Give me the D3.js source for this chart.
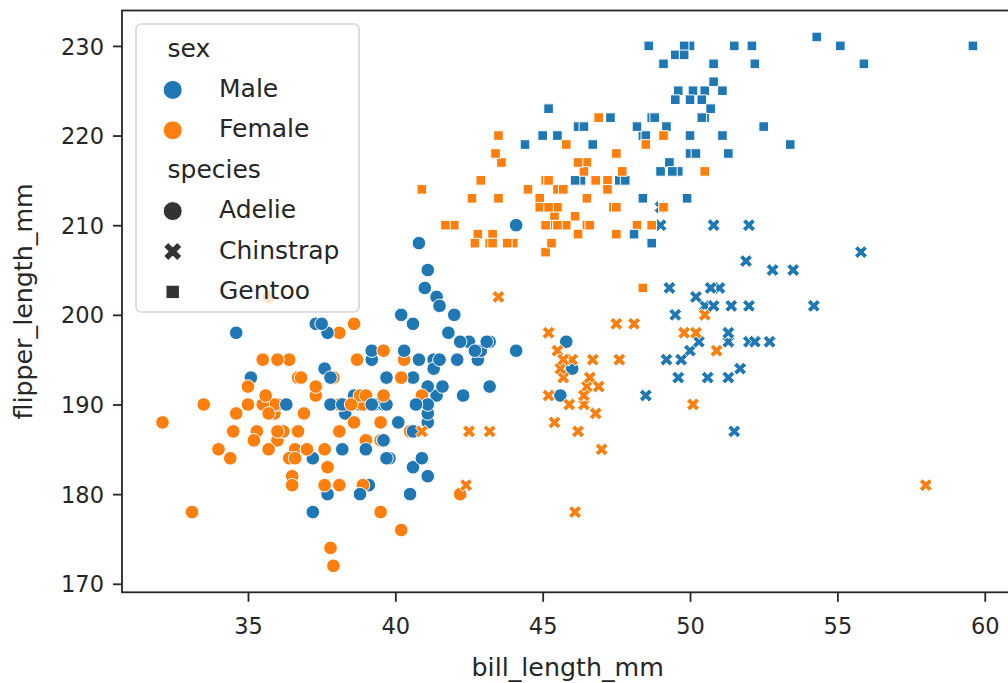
<!DOCTYPE html>
<html><head><meta charset="utf-8">
<script src="https://cdn.jsdelivr.net/npm/d3@7"></script>
<style>html,body{margin:0;padding:0;background:#fff;overflow:hidden}</style>
</head><body><svg id="c" width="1008" height="683"></svg>
<script>
// ---- data (penguins: bill_length_mm, flipper_length_mm, sex) ----
const species = ["Adelie", "Chinstrap", "Gentoo"];
const sexes = ["Male", "Female"];
const sexColors = ["#1f77b4", "#ff7f0e"];
const xTicks = [35, 40, 45, 50, 55, 60];
const yTicks = [170, 180, 190, 200, 210, 220, 230];

const adelieBill = [39.1,39.5,40.3,36.7,39.3,38.9,39.2,41.1,38.6,34.6,
36.6,38.7,42.5,34.4,46.0,37.8,37.7,35.9,38.2,38.8,
35.3,40.6,40.5,37.9,40.5,39.5,37.2,39.5,40.9,36.4,
39.2,38.8,42.2,37.6,39.8,36.5,40.8,36.0,44.1,37.0,
39.6,41.1,36.0,42.3,39.6,40.1,35.0,42.0,34.5,41.4,
39.0,40.6,36.5,37.6,35.7,41.3,37.6,41.1,36.4,41.6,
35.5,41.1,35.9,41.8,33.5,39.7,39.6,45.8,35.5,42.8,
40.9,37.2,36.2,42.1,34.6,42.9,36.7,35.1,37.3,41.3,
36.3,36.9,38.3,38.9,35.7,41.1,34.0,39.6,36.2,40.8,
38.1,40.3,33.1,43.2,35.0,41.0,37.7,37.8,37.9,39.7,
38.6,38.2,38.1,43.2,38.1,45.6,39.7,42.2,39.6,42.7,
38.6,37.3,35.7,41.1,36.2,37.7,40.2,41.4,35.2,40.6,
38.8,41.5,39.0,44.1,38.5,43.1,36.8,37.5,38.1,41.1,
35.6,40.2,37.0,39.7,40.2,40.6,32.1,40.7,37.3,39.0,
39.2,36.6,36.0,37.8,36.0,41.5];
const adelieFlipper = [181,186,195,193,190,181,195,182,191,198,
185,195,197,184,194,174,180,189,185,180,
187,183,187,172,180,178,178,188,184,195,
196,190,180,181,184,182,195,186,196,185,
190,182,190,191,186,188,190,200,187,191,
186,193,181,194,185,195,185,192,184,192,
195,188,190,198,190,190,196,197,190,195,
191,184,187,195,189,196,187,193,191,194,
190,189,189,190,202,205,185,186,187,208,
190,196,178,192,192,203,183,190,193,184,
199,190,181,197,198,191,193,197,191,196,
188,199,189,189,187,198,176,202,186,199,
191,195,191,210,190,197,193,199,187,190,
191,200,185,193,193,187,188,190,192,185,
190,184,195,193,187,201];
const adelieSex = ("MFFFMFMFMM"+"FFMFMFMFMM"+"FMFFMFMFMF"+"MMFFMFMFMF"+"MMFMFMFMFM"+
"FMFMFMFMFM"+"FMFMFMFMFM"+"FMFMFMFMFM"+"MFMFFMFMFM"+"FMFMFMFMFM"+
"FMFMFMFMFM"+"FMFMFMFMFM"+"FMFMFMFMFM"+"FMFMFMFMFM"+"MFFMFM").split("");

const chinstrapBill = [46.5,50.0,51.3,45.4,52.7,45.2,46.1,51.3,46.0,51.3,
46.6,51.7,47.0,52.0,45.9,50.5,50.3,58.0,46.4,49.2,
42.4,48.5,43.2,50.6,46.7,52.0,50.5,49.5,46.4,52.8,
40.9,54.2,42.5,51.0,49.7,47.5,47.6,52.0,46.9,53.5,
49.0,46.2,50.9,45.5,50.9,50.8,50.1,49.0,51.5,49.8,
48.1,51.4,45.7,50.7,42.5,52.2,45.2,49.3,50.2,45.6,
51.9,46.8,45.7,55.8,43.5,49.6,50.8,50.2];
const chinstrapFlipper = [192,196,193,188,197,198,178,197,195,198,
193,194,185,201,190,201,197,181,190,195,
181,191,187,193,195,197,200,200,191,205,
187,201,187,203,195,199,195,210,192,205,
210,187,196,196,196,201,190,212,187,198,
199,201,193,203,187,197,191,203,202,194,
206,189,195,207,202,193,210,198];
const chinstrapSex = ("FMMFMFFMFM"+"FMFMFMMFFM"+"FMFMFMFMFM"+"FMFMMFFMFM"+"MFMFFMFMMF"+
"FMFMFMFMMF"+"MFFMFMMF").split("");

const gentooBill = [46.1,50.0,48.7,50.0,47.6,46.5,45.4,46.7,43.3,46.8,
40.9,49.0,45.5,48.4,45.8,49.3,42.0,49.2,46.2,48.7,
50.2,45.1,46.5,46.3,42.9,46.1,47.8,48.2,50.0,47.3,
42.8,45.1,59.6,49.1,48.4,42.6,44.4,44.0,48.7,42.7,
49.6,45.3,49.6,50.5,43.6,45.5,50.5,44.9,45.2,46.6,
48.5,45.1,50.1,46.5,45.0,43.8,45.5,43.2,50.4,45.3,
46.2,45.7,54.3,45.8,49.8,49.5,43.5,50.7,47.7,46.4,
48.2,46.5,46.4,48.6,47.5,51.1,45.2,45.2,49.1,52.5,
47.4,50.0,44.9,50.8,43.4,51.3,47.5,52.1,47.5,52.2,
45.5,49.5,44.5,50.8,49.4,46.9,48.4,51.1,48.5,55.9,
47.2,49.1,46.8,41.7,53.4,43.3,48.1,50.5,49.8,43.5,
51.5,46.2,55.1,48.8,47.2,46.8,50.4,45.2,49.9];
const gentooFlipper = [211,230,210,218,215,210,211,219,209,215,
214,216,214,213,210,217,210,221,209,222,
218,215,213,215,215,215,215,210,220,222,
209,207,230,220,220,213,219,208,208,208,
225,210,216,222,217,210,225,213,215,210,
220,210,225,217,220,208,220,208,224,208,
221,214,231,219,230,229,220,223,216,221,
221,217,216,230,209,220,215,223,212,221,
212,224,212,228,218,218,212,230,218,228,
212,224,214,226,216,222,203,225,219,228,
215,228,215,210,219,208,209,216,229,213,
230,217,230,222,214,215,222,212,213];
const gentooSex = ("FMFMMFFMFM"+"FMFMFMFMFM"+"MFFMFMMFMM"+"FFMFMFMFMF"+"MFMMFFMFMF"+
"MFMFMFMFMF"+"MFMFMMFMFM"+"MFFMFMFMFM"+"FMFMFMFMFM"+"FMFMMFFMFM"+
"FMMFMFMFMF"+"MFMMFFMFM").split("");

// ---- build rows ----
const rows = [];
[[adelieBill, adelieFlipper, adelieSex, 0],
 [chinstrapBill, chinstrapFlipper, chinstrapSex, 1],
 [gentooBill, gentooFlipper, gentooSex, 2]].forEach(([b, f, s, sp]) => {
  b.forEach((v, i) => rows.push({bill: v, flipper: f[i], sex: s[i] === "M" ? 0 : 1, species: sp}));
});

// ---- layout ----
const svg = d3.select("#c");
const FONT = "DejaVu Sans, sans-serif";
const TXT = "#262626";
const L = 122, T = 10.5, B = 592.3;
const pxPerX = 29.47;

const xExt = d3.extent(rows, d => d.bill), yExt = d3.extent(rows, d => d.flipper);
const xPad = (xExt[1] - xExt[0]) * 0.05, yPad = (yExt[1] - yExt[0]) * 0.05;
const xDom = [xExt[0] - xPad, xExt[1] + xPad];
const yDom = [yExt[0] - yPad, yExt[1] + yPad];
const x = d3.scaleLinear().domain(xDom).range([L, L + (xDom[1] - xDom[0]) * pxPerX]);
const y = d3.scaleLinear().domain(yDom).range([B, T]);
const R = x.range()[1];

// marker paths (matplotlib/seaborn style markers: "o", "X", (4,0,45))
function markerPath(sp, S) {
  if (sp === 0) {
    const r = S / 2;
    return `M${r},0A${r},${r} 0 1,1 ${-r},0A${r},${r} 0 1,1 ${r},0Z`;
  }
  if (sp === 2) {
    const h = S / (2 * Math.SQRT2);
    return `M${-h},${-h}L${h},${-h}L${h},${h}L${-h},${h}Z`;
  }
  const pts = [[-1,-3],[-1,-1],[-3,-1],[-3,1],[-1,1],[-1,3],[1,3],[1,1],[3,1],[3,-1],[1,-1],[1,-3]];
  const c = Math.SQRT1_2;
  return "M" + pts.map(([a, b]) => {
    const px = a / 6 * S, py = b / 6 * S;
    return [(px * c - py * c).toFixed(2), (px * c + py * c).toFixed(2)].join(",");
  }).join("L") + "Z";
}

// clip
svg.append("clipPath").attr("id", "clip").append("rect")
  .attr("x", L).attr("y", T).attr("width", R - L).attr("height", B - T);

// points
const S = 13.6;
svg.append("g").attr("clip-path", "url(#clip)")
  .selectAll("path").data(rows).join("path")
  .attr("d", d => markerPath(d.species, S))
  .attr("transform", d => `translate(${x(d.bill)},${y(d.flipper)})`)
  .attr("fill", d => sexColors[d.sex])
  .attr("stroke", "#fff").attr("stroke-width", 1);

// axes
const xAxis = d3.axisBottom(x).tickValues(xTicks).tickSize(9.5).tickPadding(6).tickFormat(d3.format("d"));
const yAxis = d3.axisLeft(y).tickValues(yTicks).tickSize(9).tickPadding(9).tickFormat(d3.format("d"));
const gx = svg.append("g").attr("transform", `translate(0,${B})`).call(xAxis);
const gy = svg.append("g").attr("transform", `translate(${L},0)`).call(yAxis);
[gx, gy].forEach(g => {
  g.select(".domain").remove();
  g.selectAll(".tick line").attr("stroke", TXT).attr("stroke-width", 1.8);
  g.selectAll(".tick text").attr("fill", TXT).attr("font-family", FONT).attr("font-size", 22.5);
});
gx.selectAll(".tick text").attr("dy", null).attr("y", null).attr("transform", "translate(0,42)");
gy.selectAll(".tick text").attr("dy", "0.36em");

// spines
const sp = svg.append("g").attr("stroke", TXT).attr("stroke-width", 1.8).attr("fill", "none");
sp.append("rect").attr("x", L).attr("y", T).attr("width", R - L).attr("height", B - T);

// axis labels
svg.append("text").attr("x", (L + R) / 2).attr("y", 675.5).attr("text-anchor", "middle")
  .attr("font-family", FONT).attr("font-size", 25.3).attr("fill", TXT).text("bill_length_mm");
svg.append("text").attr("transform", `translate(32,${(T + B) / 2}) rotate(-90)`).attr("text-anchor", "middle")
  .attr("font-family", FONT).attr("font-size", 25.3).attr("fill", TXT).text("flipper_length_mm");

// legend
const lg = svg.append("g");
lg.append("rect").attr("x", 136).attr("y", 24).attr("width", 223).attr("height", 288)
  .attr("rx", 5).attr("fill", "#fff").attr("fill-opacity", 0.8)
  .attr("stroke", "#cccccc").attr("stroke-opacity", 0.8).attr("stroke-width", 1.6);
const entries = [{t: "sex", title: true}]
  .concat(sexes.map((s, i) => ({t: s, color: sexColors[i], sp: 0})))
  .concat([{t: "species", title: true}])
  .concat(species.map((s, i) => ({t: s, color: "#333333", sp: i})));
entries.forEach((e, i) => {
  const cy = 49.5 + i * 40.4;
  if (!e.title) {
    lg.append("path").attr("d", markerPath(e.sp, 19)).attr("transform", `translate(172.7,${cy})`)
      .attr("fill", e.color).attr("stroke", "#fff").attr("stroke-width", 1);
  }
  lg.append("text").attr("x", e.title ? 167.5 : 219).attr("y", cy + 7)
    .attr("font-family", FONT).attr("font-size", 25).attr("fill", TXT).text(e.t);
});
</script></body></html>
